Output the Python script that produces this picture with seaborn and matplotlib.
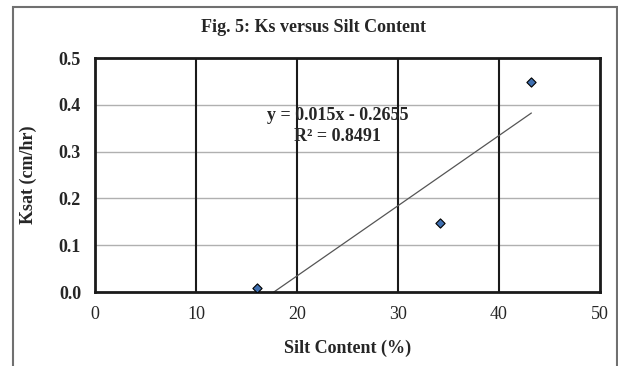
import matplotlib
matplotlib.use("Agg")
import matplotlib.pyplot as plt
import seaborn as sns
import numpy as np
import pandas as pd
from matplotlib.patches import Rectangle

# Data
silt = [16.0, 34.2, 43.2]
ksat = [0.008, 0.148, 0.448]
slope = 0.015
intercept = -0.2655
r2 = 0.8491
title = "Fig. 5: Ks versus Silt Content"
xlabel = "Silt Content (%)"
ylabel = "Ksat (cm/hr)"
xticks = [0, 10, 20, 30, 40, 50]
yticks = [0.0, 0.1, 0.2, 0.3, 0.4, 0.5]

sns.set_style("white")
plt.rcParams['font.family'] = ['Liberation Serif', 'DejaVu Serif']

fig = plt.figure(figsize=(6.18, 3.66), dpi=100)
ax = fig.add_axes([0.1537, 0.202, 0.8173, 0.6395])

df = pd.DataFrame({"silt": silt, "ksat": ksat})
xs = np.array([min(silt), max(silt)])
trend = pd.DataFrame({"x": xs, "y": slope * xs + intercept})

# gridlines
for yv in yticks[1:-1]:
    ax.axhline(yv, color="#b0b0b0", lw=1.0, zorder=0)
for xv in xticks[1:-1]:
    ax.axvline(xv, color="#1a1a1a", lw=1.5, zorder=0)

sns.lineplot(data=trend, x="x", y="y", ax=ax, color="#555555", lw=0.9, zorder=2)
sns.scatterplot(data=df, x="silt", y="ksat", ax=ax, marker="D", s=22,
                color="#3f6fb0", edgecolor="black", linewidth=0.8, zorder=3)

ax.set_xlim(0, 50)
ax.set_ylim(0, 0.5)
ax.set_xticks(xticks)
ax.set_yticks(yticks)
ax.set_xticklabels([str(t) for t in xticks], fontsize=13)
ax.set_yticklabels([f"{t:.1f}" for t in yticks], fontsize=13, fontweight="bold")
ax.tick_params(axis="both", direction="out", length=4, width=0.8, color="#999999", pad=6)
ax.set_xlabel(xlabel, fontsize=13, fontweight="bold", labelpad=12)
ax.set_ylabel(ylabel, fontsize=13, fontweight="bold", labelpad=16)

for s in ax.spines.values():
    s.set_color("#1a1a1a")
    s.set_linewidth(2.0)

ax.text(24, 0.378, f"y = {slope}x - {abs(intercept)}", ha="center", va="center",
        fontsize=13, fontweight="bold")
ax.text(24, 0.333, f"R² = {r2}", ha="center", va="center",
        fontsize=13, fontweight="bold")

fig.text(0.507, 0.925, title, ha="center", va="center", fontsize=13, fontweight="bold")

# outer chart frame
fig.patches.append(Rectangle((13/618, -0.05), (617-13)/618, 1 - 7/366 + 0.05,
                             transform=fig.transFigure, fill=False,
                             edgecolor="#707070", lw=1.5))

fig.savefig("out.png", dpi=100)
